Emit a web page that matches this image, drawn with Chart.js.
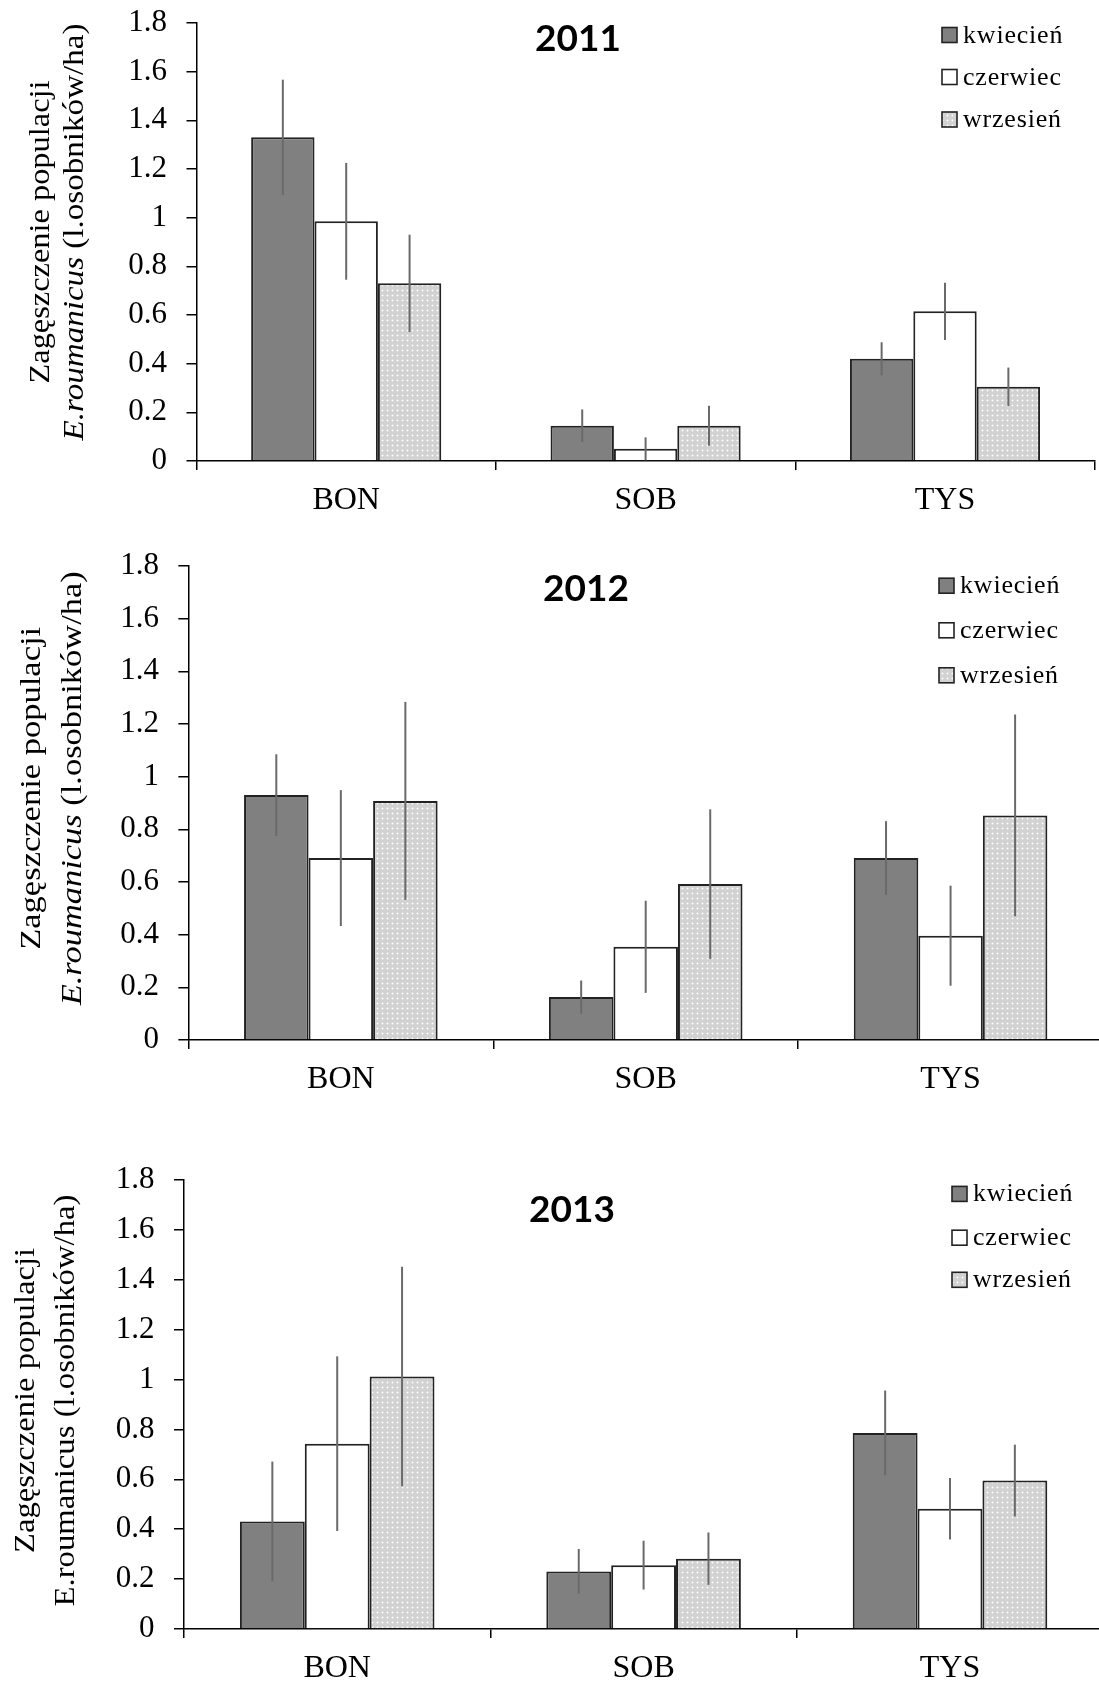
<!DOCTYPE html>
<html><head><meta charset="utf-8">
<script src="https://cdn.jsdelivr.net/npm/chart.js@4.4.1/dist/chart.umd.min.js"></script>
<style>
html,body{margin:0;padding:0;background:#fff;overflow:hidden;width:1099px;height:1682px;position:relative}
canvas{position:absolute}
</style></head><body>
<canvas id="c2011"></canvas>
<canvas id="c2012"></canvas>
<canvas id="c2013"></canvas>
<script>
// ---------- DATA ----------
const categories = ['BON', 'SOB', 'TYS'];
const seriesNames = ['kwiecień', 'czerwiec', 'wrzesień'];
const yTickLabels = ['0', '0.2', '0.4', '0.6', '0.8', '1', '1.2', '1.4', '1.6', '1.8'];
const yTitleLine1 = 'Zagęszczenie populacji';
const yTitleSpecies = 'E.roumanicus';
const yTitleUnit = ' (l.osobników/ha)';

const kwiecien2011 = [1.33, 0.145, 0.42];
const czerwiec2011 = [0.985, 0.05, 0.615];
const wrzesien2011 = [0.73, 0.145, 0.305];
const kwiecien2011Err = [0.237, 0.067, 0.068];
const czerwiec2011Err = [0.24, 0.047, 0.118];
const wrzesien2011Err = [0.20, 0.082, 0.079];

const kwiecien2012 = [0.93, 0.163, 0.691];
const czerwiec2012 = [0.691, 0.354, 0.396];
const wrzesien2012 = [0.908, 0.592, 0.853];
const kwiecien2012Err = [0.155, 0.063, 0.14];
const czerwiec2012Err = [0.258, 0.175, 0.19];
const wrzesien2012Err = [0.376, 0.284, 0.383];

const kwiecien2013 = [0.431, 0.231, 0.786];
const czerwiec2013 = [0.743, 0.256, 0.482];
const wrzesien2013 = [1.012, 0.282, 0.595];
const kwiecien2013Err = [0.24, 0.09, 0.17];
const czerwiec2013Err = [0.35, 0.098, 0.123];
const wrzesien2013Err = [0.44, 0.105, 0.144];

// ---------- STYLE / LAYOUT ----------
function makePattern() {
  const c = document.createElement('canvas');
  c.width = 5; c.height = 5;
  const x = c.getContext('2d');
  x.fillStyle = '#d2d2d2'; x.fillRect(0, 0, 5, 5);
  x.fillStyle = '#e4e4e4';
  x.fillRect(1, 2, 1, 1); x.fillRect(3, 2, 1, 1); x.fillRect(2, 1, 1, 1); x.fillRect(2, 3, 1, 1);
  x.fillStyle = '#ffffff'; x.fillRect(2, 2, 1, 1);
  return x.createPattern(c, 'repeat');
}
const dotted = makePattern();
const fills = ['#808080', '#ffffff', dotted];
const SERIF = '"Liberation Serif", "Times New Roman", serif';

const layouts = {
  c2011: { axisX: 196.5, top: 23, zero: 461.3, right: 1094.7,
    title: { text: '2011', x: 578, y: 39 },
    legend: { sqX: 942, textX: 963, rows: [35, 77, 119.5] },
    yTitle: { cy: 232, x1: 41.5, len1: 303, x2: 75.4, len2: 417, italic: true } },
  c2012: { axisX: 188.4, top: 565.7, zero: 1040, right: 1103,
    title: { text: '2012', x: 586, y: 589 },
    legend: { sqX: 939, textX: 960, rows: [585.4, 630, 675] },
    yTitle: { cy: 788, x1: 32.5, len1: 323, x2: 73.5, len2: 434, italic: true } },
  c2013: { axisX: 184, top: 1179.5, zero: 1628, right: 1103.2,
    title: { text: '2013', x: 572, y: 1210 },
    legend: { sqX: 952, textX: 973, rows: [1193.4, 1237.2, 1279.3] },
    yTitle: { cy: 1400, x1: 26.5, len1: 305, x2: 66.6, len2: 412, italic: false } }
};

const errorBarPlugin = {
  id: 'errorBars',
  afterDatasetsDraw(chart) {
    const ctx = chart.ctx, y = chart.scales.y;
    ctx.save();
    ctx.strokeStyle = '#6a6a6a';
    ctx.lineWidth = 2;
    chart.data.datasets.forEach((ds, di) => {
      const meta = chart.getDatasetMeta(di);
      meta.data.forEach((bar, i) => {
        const v = ds.data[i], e = ds.errors[i];
        ctx.beginPath();
        ctx.moveTo(bar.x, y.getPixelForValue(v + e));
        ctx.lineTo(bar.x, y.getPixelForValue(Math.max(0, v - e)));
        ctx.stroke();
      });
    });
    ctx.restore();
  }
};

const decorPlugin = {
  id: 'decor',
  afterDraw(chart) {
    const L = chart.options.plugins.decor.L;
    const off = chart.options.plugins.decor.off;
    const ctx = chart.ctx;
    ctx.save();
    // title
    ctx.fillStyle = '#000';
    ctx.font = 'bold 37px Lato, "Open Sans", sans-serif';
    ctx.textAlign = 'center'; ctx.textBaseline = 'middle';
    ctx.fillText(L.title.text, L.title.x, L.title.y - off);
    // legend
    ctx.textAlign = 'left'; ctx.textBaseline = 'alphabetic';
    ctx.font = '26px ' + SERIF;
    if ('letterSpacing' in ctx) ctx.letterSpacing = '0.8px';
    seriesNames.forEach((n, i) => {
      const cy = L.legend.rows[i] - off;
      ctx.fillStyle = fills[i];
      ctx.fillRect(L.legend.sqX, cy - 7.5, 15, 15);
      ctx.strokeStyle = '#222'; ctx.lineWidth = 1.6;
      ctx.strokeRect(L.legend.sqX, cy - 7.5, 15, 15);
      ctx.fillStyle = '#000';
      ctx.fillText(n, L.legend.textX, cy + 7.5);
    });
    if ('letterSpacing' in ctx) ctx.letterSpacing = '0px';
    // y title
    const size = 29;
    const lines = [
      { x: L.yTitle.x1, len: L.yTitle.len1, parts: [{ t: yTitleLine1, it: false }] },
      { x: L.yTitle.x2, len: L.yTitle.len2, parts: [{ t: yTitleSpecies, it: L.yTitle.italic }, { t: yTitleUnit, it: false }] }
    ];
    lines.forEach(ln => {
      ctx.save();
      ctx.translate(ln.x, L.yTitle.cy - off);
      ctx.rotate(-Math.PI / 2);
      let total = 0;
      const ws = ln.parts.map(p => {
        ctx.font = (p.it ? 'italic ' : '') + size + 'px ' + SERIF;
        const w = ctx.measureText(p.t).width; total += w; return w;
      });
      ctx.scale(ln.len / total, 1);
      ctx.textBaseline = 'middle'; ctx.textAlign = 'left'; ctx.fillStyle = '#000';
      let x = -total / 2;
      ln.parts.forEach((p, i) => {
        ctx.font = (p.it ? 'italic ' : '') + size + 'px ' + SERIF;
        ctx.fillText(p.t, x, 0);
        x += ws[i];
      });
      ctx.restore();
    });
    ctx.restore();
  }
};

function build(id, series, errors) {
  const L = layouts[id];
  const canvas = document.getElementById(id);
  const padTop = 45;
  const top = L.top - padTop;
  const W = Math.ceil(L.right) + 3;
  const bottomH = 70;
  const H = Math.round(L.zero - top + bottomH);
  canvas.width = W; canvas.height = H;
  canvas.style.width = W + 'px'; canvas.style.height = H + 'px';
  canvas.style.left = '0px'; canvas.style.top = top + 'px';
  new Chart(canvas, {
    type: 'bar',
    data: {
      labels: categories,
      datasets: seriesNames.map((n, i) => ({
        label: n,
        data: series[i],
        errors: errors[i],
        backgroundColor: fills[i],
        borderColor: '#222',
        borderWidth: 2,
        categoryPercentage: 0.635,
        barPercentage: 1.0
      }))
    },
    options: {
      responsive: false, animation: false, devicePixelRatio: 1,
      layout: { padding: { top: padTop, left: 0, right: W - L.right, bottom: 0 } },
      plugins: { legend: { display: false }, title: { display: false }, tooltip: { enabled: false },
        decor: { L: L, off: top } },
      scales: {
        x: {
          z: 1,
          grid: { display: true, drawOnChartArea: false, drawTicks: true, tickLength: 9, offset: true, color: '#000', lineWidth: 1.5 },
          border: { display: true, color: '#000', width: 1.5 },
          ticks: { color: '#000', padding: 11, font: { family: SERIF, size: 32 }, maxRotation: 0 },
          afterFit: s => { s.height = bottomH; }
        },
        y: {
          z: 1,
          min: 0, max: 1.8,
          grid: { display: true, drawOnChartArea: false, drawTicks: true, tickLength: 10, color: '#000', lineWidth: 1.5 },
          border: { display: true, color: '#000', width: 1.5 },
          ticks: { stepSize: 0.2, color: '#000', padding: 19.5, font: { family: SERIF, size: 31 },
            callback: (v, i) => yTickLabels[i] },
          afterFit: s => { s.width = L.axisX; }
        }
      }
    },
    plugins: [errorBarPlugin, decorPlugin]
  });
}

build('c2011', [kwiecien2011, czerwiec2011, wrzesien2011], [kwiecien2011Err, czerwiec2011Err, wrzesien2011Err]);
build('c2012', [kwiecien2012, czerwiec2012, wrzesien2012], [kwiecien2012Err, czerwiec2012Err, wrzesien2012Err]);
build('c2013', [kwiecien2013, czerwiec2013, wrzesien2013], [kwiecien2013Err, czerwiec2013Err, wrzesien2013Err]);
</script>
</body></html>
